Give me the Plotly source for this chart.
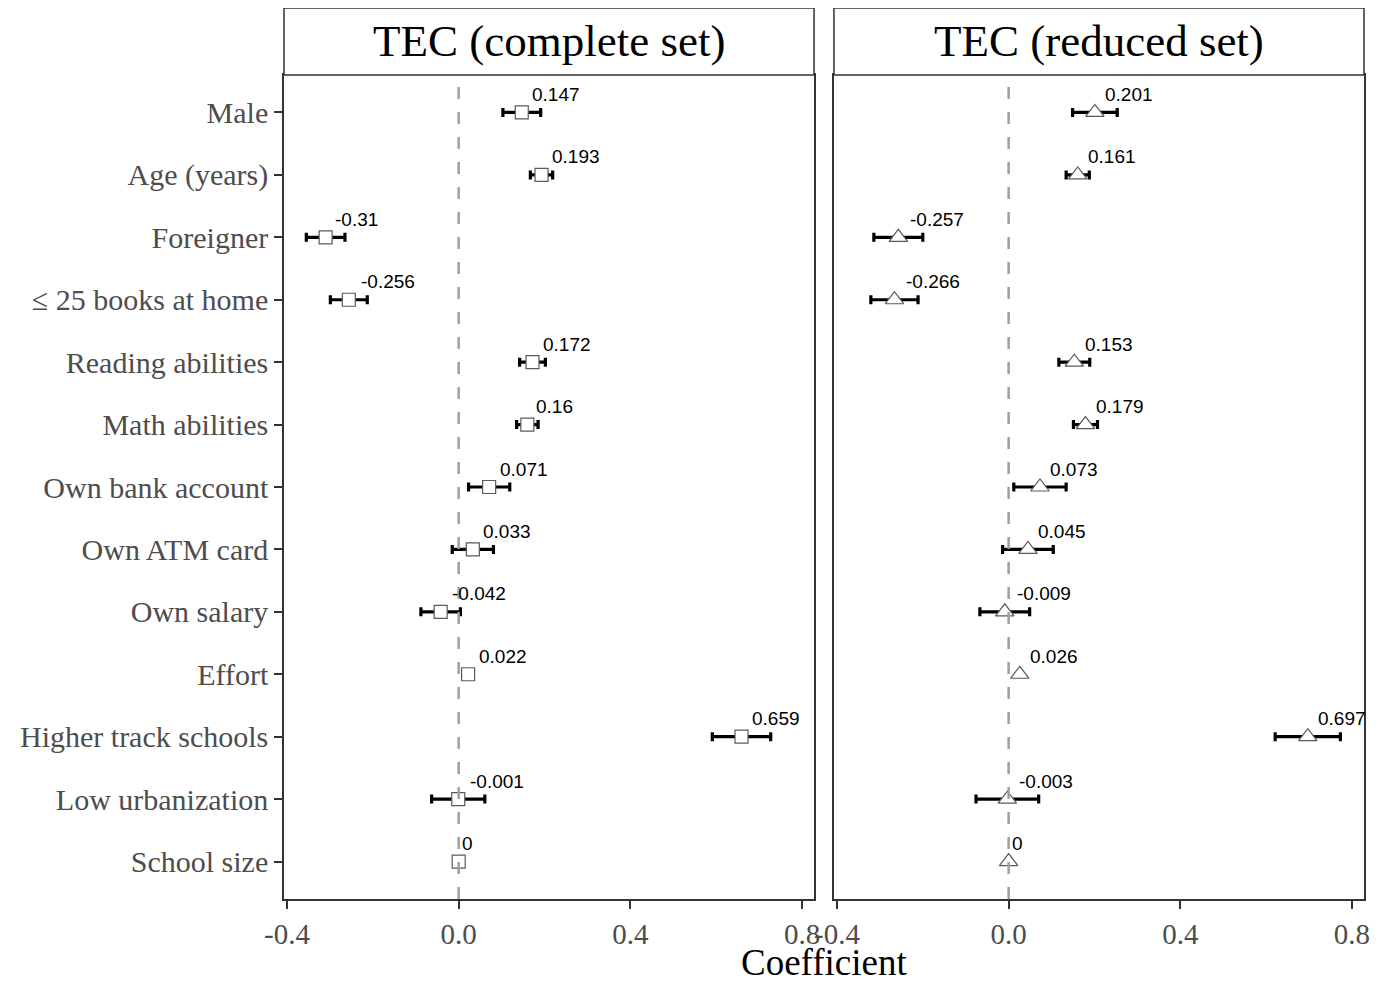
import plotly.graph_objects as go

# ---------------- data ----------------
variables = ["Male", "Age (years)", "Foreigner", "≤ 25 books at home",
             "Reading abilities", "Math abilities", "Own bank account",
             "Own ATM card", "Own salary", "Effort", "Higher track schools",
             "Low urbanization", "School size"]

panel_titles = ["TEC (complete set)", "TEC (reduced set)"]

coef_complete = [0.147, 0.193, -0.31, -0.256, 0.172, 0.16, 0.071, 0.033,
                 -0.042, 0.022, 0.659, -0.001, 0]
ci_low_complete = [0.103, 0.167, -0.355, -0.299, 0.142, 0.135, 0.023, -0.015,
                   -0.088, None, 0.591, -0.063, None]
ci_high_complete = [0.191, 0.219, -0.265, -0.213, 0.202, 0.185, 0.119, 0.081,
                    0.004, None, 0.727, 0.061, None]

coef_reduced = [0.201, 0.161, -0.257, -0.266, 0.153, 0.179, 0.073, 0.045,
                -0.009, 0.026, 0.697, -0.003, 0]
ci_low_reduced = [0.149, 0.134, -0.314, -0.321, 0.117, 0.151, 0.012, -0.014,
                  -0.067, None, 0.621, -0.076, None]
ci_high_reduced = [0.253, 0.188, -0.200, -0.211, 0.189, 0.207, 0.134, 0.104,
                   0.049, None, 0.773, 0.070, None]

x_ticks = [-0.4, 0.0, 0.4, 0.8]
x_tick_labels = ["-0.4", "0.0", "0.4", "0.8"]
x_title = "Coefficient"

# ---------------- style ----------------
SERIF = "Liberation Serif, Times New Roman, serif"
SANS = "Liberation Sans, Arial, sans-serif"
AXIS_COL = "#333333"
TXT_COL = "#4D4D4D"
LABEL_SIZE = 19

panels = [
    dict(coef=coef_complete, lo=ci_low_complete, hi=ci_high_complete,
         symbol="square", msize=13, xa="x", ya="y", title=panel_titles[0]),
    dict(coef=coef_reduced, lo=ci_low_reduced, hi=ci_high_reduced,
         symbol="triangle-up", msize=16, xa="x2", ya="y2", title=panel_titles[1]),
]


def text_width(s, size):
    w = 0.0
    for ch in s:
        if ch.isdigit():
            w += 0.556
        elif ch == ".":
            w += 0.278
        elif ch == "-":
            w += 0.333
        else:
            w += 0.5
    return w * size


fig = go.Figure()
annotations = []
shapes = []

for p in panels:
    idx_ci = [i for i in range(len(variables)) if p["lo"][i] is not None]
    idx_no = [i for i in range(len(variables)) if p["lo"][i] is None]
    marker = dict(symbol=p["symbol"], size=p["msize"], color="white",
                  line=dict(color="#5A5A5A", width=1.2))
    fig.add_trace(go.Scatter(
        x=[p["coef"][i] for i in idx_ci],
        y=[variables[i] for i in idx_ci],
        mode="markers", marker=marker, xaxis=p["xa"], yaxis=p["ya"],
        showlegend=False,
        error_x=dict(type="data", symmetric=False,
                     array=[p["hi"][i] - p["coef"][i] for i in idx_ci],
                     arrayminus=[p["coef"][i] - p["lo"][i] for i in idx_ci],
                     color="black", thickness=3.2, width=4.5),
    ))
    fig.add_trace(go.Scatter(
        x=[p["coef"][i] for i in idx_no],
        y=[variables[i] for i in idx_no],
        mode="markers", marker=marker, xaxis=p["xa"], yaxis=p["ya"],
        showlegend=False,
    ))
    # value labels
    for i, v in enumerate(p["coef"]):
        lab = f"{v:g}"
        annotations.append(dict(
            x=v, y=i, xref=p["xa"], yref=p["ya"], text=lab, showarrow=False,
            xanchor="left", yanchor="middle",
            xshift=0.2 * text_width(lab, LABEL_SIZE) - 1, yshift=18,
            font=dict(family=SANS, size=LABEL_SIZE, color="black"),
        ))
    # zero reference line
    shapes.append(dict(type="line", xref=p["xa"], yref=p["ya"] + " domain",
                       x0=0, x1=0, y0=0, y1=1, layer="above",
                       line=dict(color="#A0A0A0", width=2.5, dash="12px,13px")))
    # facet strip
    shapes.append(dict(type="rect", xref=p["xa"] + " domain", yref="paper",
                       x0=0, x1=1, y0=1, y1=1.0813, fillcolor="white",
                       line=dict(color=AXIS_COL, width=1.5), layer="above"))
    annotations.append(dict(
        x=0.5, y=1.0407, xref=p["xa"] + " domain", yref="paper",
        text=p["title"], showarrow=False, xanchor="center", yanchor="middle",
        font=dict(family=SERIF, size=45, color="black")))

annotations.append(dict(
    x=0.5, y=-0.0765, xref="paper", yref="paper", text=x_title,
    showarrow=False, xanchor="center", yanchor="middle",
    font=dict(family=SERIF, size=37, color="black")))

xaxis_common = dict(range=[-0.407, 0.828], tickvals=x_ticks,
                    ticktext=x_tick_labels, ticks="outside", ticklen=8,
                    tickwidth=1.5, tickcolor=AXIS_COL, showline=True,
                    mirror=True, linecolor=AXIS_COL, linewidth=1.5,
                    showgrid=False, zeroline=False,
                    tickfont=dict(family=SERIF, size=29, color=TXT_COL))

yaxis_common = dict(type="category", categoryorder="array",
                    categoryarray=variables, range=[12.6, -0.6],
                    showline=True, mirror=True, linecolor=AXIS_COL,
                    linewidth=1.5, showgrid=False, zeroline=False)

# the page body adds an 8px margin on every side, so the figure is
# 16px smaller than the 1380x983 window to avoid any overflow/scaling
fig.update_layout(
    width=1364, height=967,
    margin=dict(l=276, r=2, t=67, b=76),
    paper_bgcolor="white", plot_bgcolor="white",
    xaxis=dict(domain=[0, 0.49079], **xaxis_common),
    xaxis2=dict(domain=[0.50921, 1], **xaxis_common),
    yaxis=dict(anchor="x", ticks="outside", ticklen=8, tickwidth=1.5,
               tickcolor=AXIS_COL,
               tickfont=dict(family=SERIF, size=30, color=TXT_COL),
               **yaxis_common),
    yaxis2=dict(anchor="x2", matches="y", showticklabels=False, ticks="",
                **yaxis_common),
    annotations=annotations,
    shapes=shapes,
    showlegend=False,
)

fig.write_html("out.html")
